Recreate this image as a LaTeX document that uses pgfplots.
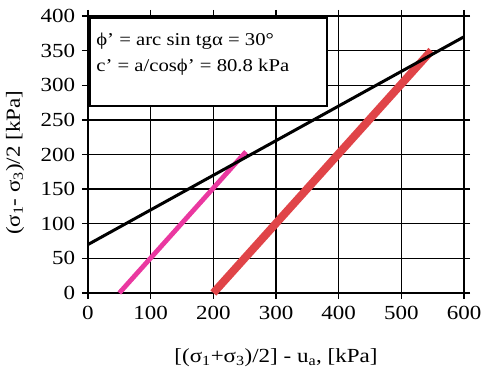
\documentclass[border=0pt]{standalone}
\usepackage{pgfplots}
\pgfplotsset{compat=1.18}
\usepackage{fontspec}
\setmainfont[FakeStretch=1.15]{Liberation Serif}
\definecolor{mag}{RGB}{234,56,160}
\definecolor{redl}{RGB}{224,68,72}
\begin{document}
\fontsize{20}{23}\selectfont
\begin{tikzpicture}
\useasboundingbox (-88pt,-78pt) rectangle (396pt,293pt);
\begin{axis}[
  scale only axis, width=376pt, height=277pt,
  xmin=0, xmax=600, ymin=0, ymax=400,
  xtick={0,100,...,600}, ytick={0,50,...,400},
  grid=major,
  major grid style={black, line width=1.4pt},
  axis line style={black, line width=2.5pt},
  tick align=outside,
  major tick length=6pt,
  tick style={black, line width=1.4pt},
  /pgf/number format/assume math mode=true,
  ticklabel style={font=\fontsize{20}{23}\selectfont},
  label style={font=\fontsize{20}{23}\selectfont},
  xlabel={[(σ\textsubscript{1}+σ\textsubscript{3})/2] - u\textsubscript{a}, [kPa]},
  ylabel={(σ\textsubscript{1}- σ\textsubscript{3})/2 [kPa]},
  xlabel style={at={(axis description cs:0.5,0)}, anchor=center, yshift=-65pt},
  ylabel style={at={(axis description cs:0,0.47)}, anchor=center, rotate=0, yshift=73pt},
  clip=false,
]
\addplot[redl, line width=8pt, no marks] coordinates {(200,0) (548,350)};
\addplot[mag, line width=4.8pt, no marks] coordinates {(50,0) (252,204)};
\addplot[black, line width=3pt, no marks] coordinates {(0,70) (600,370)};
\draw[black, fill=white, line width=2.2pt] (axis cs:3,270) rectangle (axis cs:382,397);
\node[anchor=base west, inner sep=0pt, font=\fontsize{18}{21}\selectfont] at (axis cs:13,358) {ϕ’ = arc sin tgα = 30°};
\node[anchor=base west, inner sep=0pt, font=\fontsize{18}{21}\selectfont] at (axis cs:13,320) {c’ = a/cosϕ’ = 80.8 kPa};
\end{axis}
\end{tikzpicture}
\end{document}
